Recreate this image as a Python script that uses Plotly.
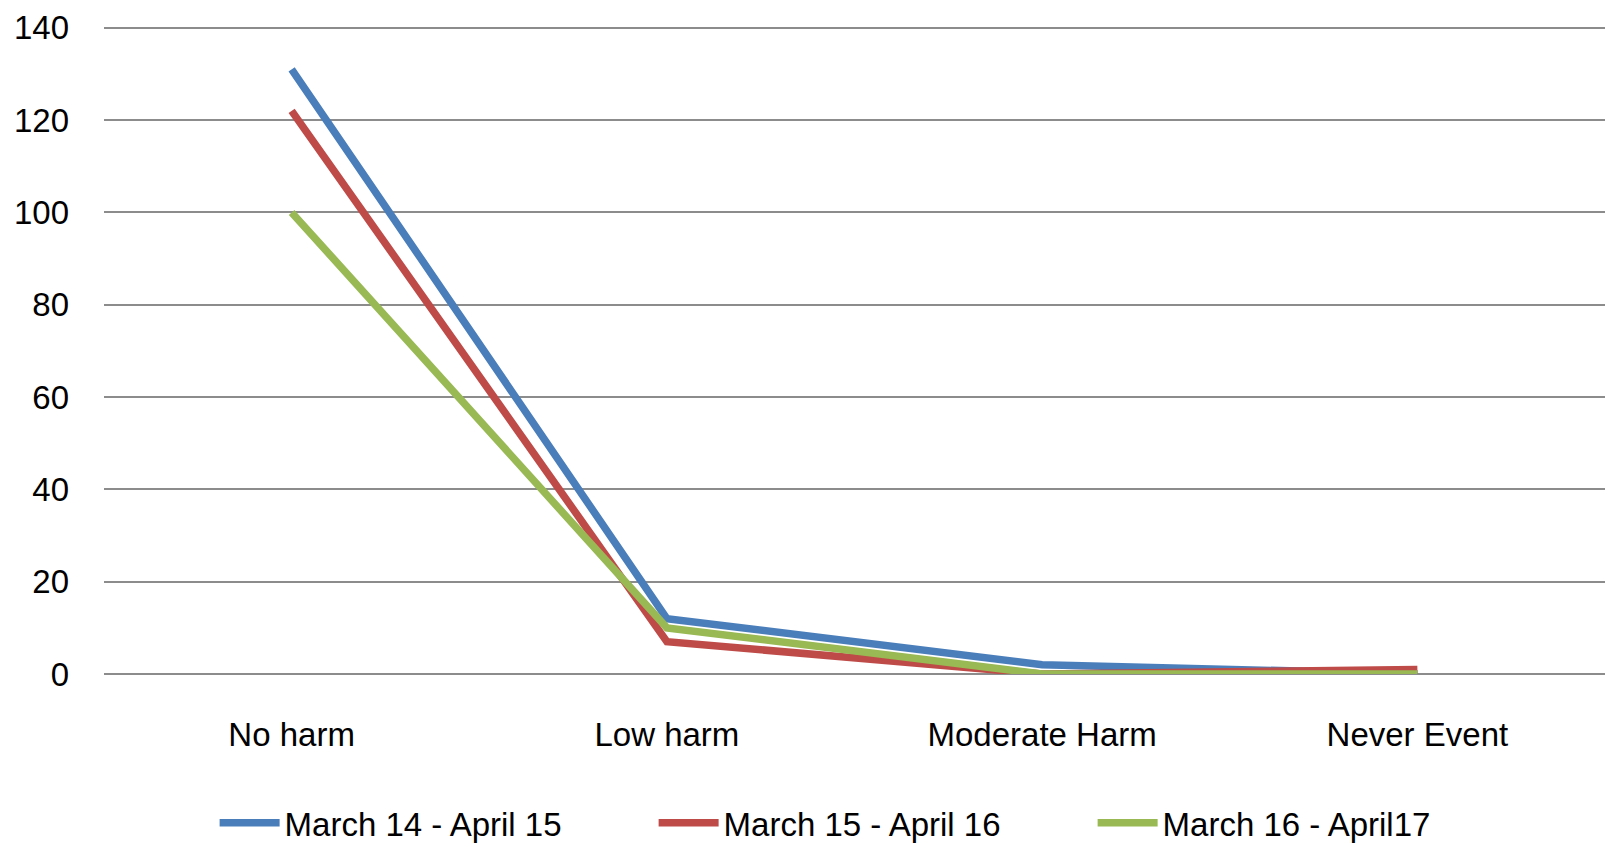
import plotly.graph_objects as go

categories = ["No harm", "Low harm", "Moderate Harm", "Never Event"]
series_names = ["March 14 - April 15", "March 15 - April 16", "March 16 - April17"]
s1 = [131, 12, 2, 0]
s2 = [122, 7, 0, 1]
s3 = [100, 10, 0, 0]
colors = ["#4A7EBB", "#BE4B48", "#98B954"]
y_ticks = [0, 20, 40, 60, 80, 100, 120, 140]

FONT = "Liberation Sans Narrow, Liberation Sans, Arial, sans-serif"
FS = 33

fig = go.Figure()
for name, vals, c in zip(series_names, [s1, s2, s3], colors):
    fig.add_trace(go.Scatter(x=categories, y=vals, mode="lines", name=name,
                             line=dict(color=c, width=7.5)))

fig.update_layout(
    width=1605, height=844,
    paper_bgcolor="white", plot_bgcolor="white",
    margin=dict(l=104, r=0, t=26, b=170),
    font=dict(family=FONT, size=FS, color="#000000"),
    showlegend=True,
    legend=dict(orientation="h", xref="container", yref="container",
                x=0.544, xanchor="center", y=0.025, yanchor="middle",
                font=dict(family=FONT, size=FS, color="#000000"),
                entrywidth=364, entrywidthmode="pixels", itemwidth=60,
                bgcolor="rgba(0,0,0,0)"),
)
fig.update_xaxes(range=[-0.5, 3.5], showgrid=False, showline=False, zeroline=False,
                 ticks="", ticklabelstandoff=38, tickfont=dict(family=FONT, size=FS))
fig.update_yaxes(range=[0, 140.4], tickvals=y_ticks, showgrid=True, gridcolor="#8C8C8C",
                 gridwidth=2, zeroline=True, zerolinecolor="#8C8C8C", zerolinewidth=2,
                 showline=False, ticks="", ticklabelstandoff=34,
                 tickfont=dict(family=FONT, size=FS))

fig.write_html("out.html", config={"displayModeBar": False},
               post_script="document.body.style.margin='0px';")
